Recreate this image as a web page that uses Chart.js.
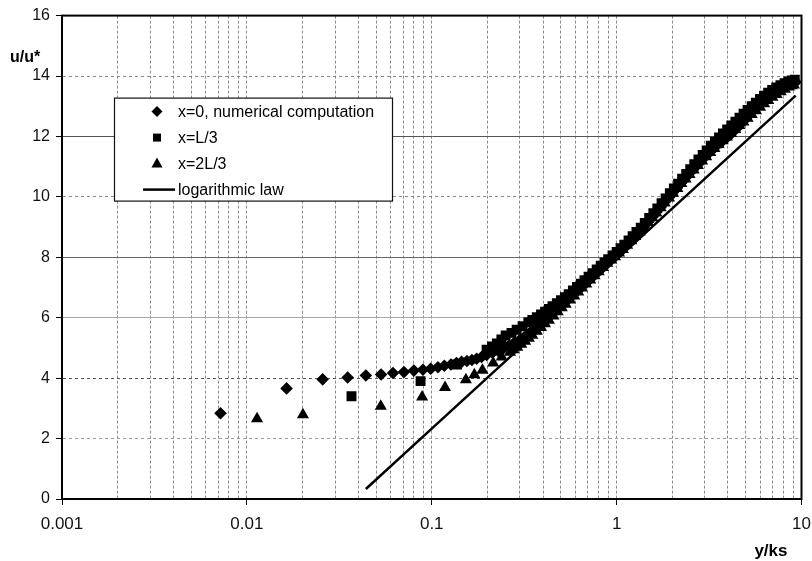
<!DOCTYPE html>
<html>
<head>
<meta charset="utf-8">
<title>u/u* vs y/ks</title>
<script src="https://cdn.jsdelivr.net/npm/chart.js@4.4.0/dist/chart.umd.min.js"></script>
<style>
  html, body { margin: 0; padding: 0; background: #fff; }
  #wrap { position: relative; width: 812px; height: 561px; }
</style>
</head>
<body>
<div id="wrap"><canvas id="chart" width="812" height="561"></canvas></div>
<script>
// --- data ---
const xTitle = 'y/ks';
const yTitle = 'u/u*';

const xMajorTicks = [0.001, 0.01, 0.1, 1, 10];
const xMinorSteps = [2, 3, 4, 5, 6, 7, 8, 9];
const yTicks = [0, 2, 4, 6, 8, 10, 12, 14, 16];

const seriesLabels = ['x=0, numerical computation', 'x=L/3', 'x=2L/3', 'logarithmic law'];

// x=0, numerical computation (diamonds)
const x0X = [0.0072, 0.0164, 0.0257, 0.0351, 0.044, 0.0532, 0.0617, 0.0707, 0.080, 0.0896, 0.0987, 0.108, 0.117, 0.127, 0.136, 0.145,
  0.155, 0.165, 0.175, 0.186, 0.198, 0.213, 0.228, 0.244, 0.262, 0.281, 0.301, 0.323, 0.346, 0.371, 0.398,
  0.426, 0.457, 0.490, 0.525, 0.563, 0.603, 0.647, 0.693, 0.743, 0.797, 0.854, 0.916, 0.982, 1.05, 1.13,
  1.21, 1.29, 1.39, 1.49, 1.59, 1.71, 1.83, 1.96, 2.10, 2.26, 2.42, 2.59, 2.78, 2.98, 3.19,
  3.42, 3.67, 3.93, 4.22, 4.52, 4.85, 5.19, 5.57, 5.97, 6.40, 6.86, 7.35, 7.88, 8.45, 9.05, 9.3];
const x0U = [2.84, 3.66, 3.96, 4.02, 4.09, 4.12, 4.17, 4.20, 4.25, 4.28, 4.31, 4.36, 4.41, 4.45, 4.50, 4.54,
  4.57, 4.60, 4.64, 4.70, 4.77, 4.84, 4.91, 4.98, 5.08, 5.19, 5.28, 5.41, 5.55, 5.70, 5.87,
  6.03, 6.18, 6.35, 6.52, 6.70, 6.87, 7.04, 7.21, 7.40, 7.57, 7.73, 7.89, 8.04, 8.20, 8.40,
  8.58, 8.76, 8.98, 9.20, 9.40, 9.63, 9.86, 10.05, 10.27, 10.50, 10.70, 10.90, 11.10, 11.30, 11.48,
  11.65, 11.80, 11.95, 12.12, 12.30, 12.50, 12.70, 12.90, 13.08, 13.25, 13.40, 13.52, 13.63, 13.72, 13.78, 13.80];

// x=L/3 (squares)
const xL3X = [0.0368, 0.087, 0.137, 0.198, 0.212, 0.225, 0.238, 0.251, 0.27, 0.288, 0.31, 0.333, 0.35, 0.37, 0.39,
  0.41, 0.43, 0.45, 0.475, 0.50, 0.525, 0.55, 0.58, 0.61, 0.64, 0.67, 0.705, 0.74, 0.78, 0.82,
  0.86, 0.90, 0.95, 1.0, 1.05, 1.1, 1.16, 1.22, 1.28, 1.35, 1.42, 1.5, 1.58, 1.66, 1.75,
  1.84, 1.94, 2.04, 2.15, 2.26, 2.38, 2.5, 2.63, 2.77, 2.92, 3.07, 3.23, 3.4, 3.58, 3.76,
  3.96, 4.17, 4.39, 4.62, 4.86, 5.11, 5.38, 5.66, 5.96, 6.27, 6.6, 6.94, 7.3, 7.69, 8.1,
  8.5, 8.85, 9.2];
const xL3U = [3.40, 3.90, 4.45, 4.94, 5.05, 5.15, 5.28, 5.41, 5.50, 5.60, 5.72, 5.85, 5.93, 6.02, 6.11,
  6.20, 6.29, 6.38, 6.48, 6.58, 6.68, 6.78, 6.90, 7.02, 7.13, 7.24, 7.36, 7.47, 7.60, 7.72,
  7.83, 7.94, 8.06, 8.18, 8.30, 8.42, 8.56, 8.70, 8.84, 8.98, 9.14, 9.30, 9.46, 9.62, 9.79,
  9.95, 10.12, 10.28, 10.44, 10.60, 10.76, 10.92, 11.08, 11.24, 11.39, 11.54, 11.69, 11.83, 11.97, 12.10,
  12.23, 12.36, 12.49, 12.62, 12.75, 12.88, 13.00, 13.12, 13.24, 13.35, 13.45, 13.54, 13.62, 13.70, 13.76,
  13.82, 13.85, 13.88];

// x=2L/3 (triangles)
const x2L3X = [0.01135, 0.0201, 0.053, 0.0887, 0.118, 0.153, 0.170, 0.188, 0.215, 0.239, 0.265, 0.277, 0.29, 0.305, 0.32,
  0.335, 0.35, 0.37, 0.39, 0.41, 0.43, 0.455, 0.48, 0.505, 0.53, 0.56, 0.59, 0.62, 0.65, 0.685,
  0.72, 0.76, 0.80, 0.845, 0.89, 0.935, 0.98, 1.03, 1.08, 1.14, 1.2, 1.26, 1.33, 1.4, 1.48,
  1.56, 1.64, 1.73, 1.82, 1.92, 2.02, 2.13, 2.24, 2.36, 2.48, 2.61, 2.75, 2.9, 3.05, 3.21,
  3.38, 3.56, 3.75, 3.95, 4.16, 4.38, 4.61, 4.85, 5.11, 5.38, 5.67, 5.97, 6.28, 6.61, 6.96,
  7.33, 7.72, 8.13, 8.55, 8.85, 9.1];
const x2L3U = [2.66, 2.79, 3.07, 3.38, 3.69, 3.95, 4.11, 4.26, 4.50, 4.70, 4.86, 4.94, 5.02, 5.12, 5.22,
  5.32, 5.42, 5.55, 5.68, 5.80, 5.92, 6.06, 6.20, 6.33, 6.45, 6.59, 6.72, 6.85, 6.98, 7.12,
  7.25, 7.39, 7.52, 7.66, 7.80, 7.91, 8.02, 8.14, 8.26, 8.40, 8.55, 8.69, 8.84, 8.99, 9.15,
  9.31, 9.47, 9.64, 9.80, 9.96, 10.12, 10.28, 10.44, 10.59, 10.74, 10.89, 11.04, 11.19, 11.33, 11.47,
  11.60, 11.73, 11.86, 11.98, 12.10, 12.23, 12.36, 12.48, 12.60, 12.73, 12.85, 12.97, 13.08, 13.19, 13.30,
  13.39, 13.48, 13.56, 13.64, 13.68, 13.70];

// logarithmic law (straight line on log x)
const logLawX = [0.044, 0.1, 1, 9.3];
const logLawU = [0.33, 2.33, 7.93, 13.35];

// --- helpers ---
const FONT = '"Liberation Sans", Arial, Helvetica, sans-serif';
Chart.defaults.font.family = FONT;
Chart.defaults.color = '#111';

const pts = (xs, ys) => xs.map((x, i) => ({ x: x, y: ys[i] }));
const isDecade = v => Math.abs(Math.log10(v) - Math.round(Math.log10(v))) < 1e-6;

const xTickValues = [];
xMajorTicks.forEach((d, i) => {
  xTickValues.push(d);
  if (i < xMajorTicks.length - 1) xMinorSteps.forEach(s => xTickValues.push(Number((d * s).toPrecision(3))));
});

// horizontal gridline look in the scan: some solid, some dotted
const yGridColor = { 2: '#9a9a9a', 4: '#555', 6: '#a8a8a8', 8: '#666', 10: '#8a8a8a', 12: '#555', 14: '#8a8a8a' };
const yGridSolid = [6, 8, 12];

// markers for the in-plot legend
function drawMarker(ctx, style, x, y) {
  ctx.beginPath();
  if (style === 'rectRot') {
    ctx.moveTo(x, y - 5.5); ctx.lineTo(x + 5.5, y); ctx.lineTo(x, y + 5.5); ctx.lineTo(x - 5.5, y);
  } else if (style === 'rect') {
    ctx.rect(x - 4, y - 4, 8, 8);
  } else if (style === 'triangle') {
    ctx.moveTo(x, y - 6); ctx.lineTo(x + 5.5, y + 4); ctx.lineTo(x - 5.5, y + 4);
  }
  ctx.closePath();
  ctx.fill();
}

const frameLegendTitles = {
  id: 'frameLegendTitles',
  afterDraw(chart) {
    const { ctx, chartArea: a } = chart;
    ctx.save();
    // plot frame
    ctx.strokeStyle = '#000';
    ctx.lineWidth = 2;
    ctx.strokeRect(a.left, a.top, a.right - a.left, a.bottom - a.top);

    // axis titles
    ctx.fillStyle = '#000';
    ctx.textBaseline = 'middle';
    ctx.font = 'bold 16px ' + FONT;
    ctx.textAlign = 'left';
    ctx.fillText(yTitle, 10, a.top + 42);
    ctx.font = 'bold 17px ' + FONT;
    ctx.textAlign = 'right';
    ctx.fillText(xTitle, a.right - 14, a.bottom + 52);

    // legend box
    const lx = a.left + 52, ly = a.top + 82, lw = 278, lh = 103;
    ctx.fillStyle = '#fff';
    ctx.fillRect(lx, ly, lw, lh);
    ctx.lineWidth = 1.2;
    ctx.strokeStyle = '#111';
    ctx.strokeRect(lx + 0.5, ly + 0.5, lw, lh);

    ctx.font = '16px ' + FONT;
    ctx.textAlign = 'left';
    chart.data.datasets.forEach((ds, i) => {
      const cy = ly + 14 + i * 26;
      ctx.fillStyle = '#000';
      if (ds.showLine) {
        ctx.strokeStyle = '#000';
        ctx.lineWidth = 2.5;
        ctx.beginPath();
        ctx.moveTo(lx + 29, cy);
        ctx.lineTo(lx + 61, cy);
        ctx.stroke();
      } else {
        drawMarker(ctx, ds.pointStyle, lx + 43, cy);
      }
      ctx.fillText(ds.label, lx + 64, cy + 1);
    });
    ctx.restore();
  }
};

const ctx = document.getElementById('chart').getContext('2d');
new Chart(ctx, {
  type: 'scatter',
  data: {
    datasets: [
      { label: seriesLabels[0], data: pts(x0X, x0U), pointStyle: 'rectRot', pointRadius: 6.3,
        backgroundColor: '#000', borderWidth: 0, showLine: false },
      { label: seriesLabels[1], data: pts(xL3X, xL3U), pointStyle: 'rect', pointRadius: 7,
        backgroundColor: '#000', borderWidth: 0, showLine: false },
      { label: seriesLabels[2], data: pts(x2L3X, x2L3U), pointStyle: 'triangle', pointRadius: 7,
        backgroundColor: '#000', borderWidth: 0, showLine: false },
      { label: seriesLabels[3], data: pts(logLawX, logLawU), showLine: true, borderColor: '#000',
        borderWidth: 2.5, pointRadius: 0, fill: false, tension: 0 }
    ]
  },
  options: {
    responsive: false,
    animation: false,
    devicePixelRatio: 1,
    layout: { padding: { top: 14, right: 0, left: 0, bottom: 0 } },
    plugins: { legend: { display: false }, tooltip: { enabled: false } },
    scales: {
      x: {
        type: 'logarithmic',
        position: 'bottom',
        min: 0.001, max: 10,
        afterBuildTicks: s => { s.ticks = xTickValues.map(v => ({ value: v })); },
        afterFit: s => { s.height = 62; s.paddingRight = 10.5; },
        ticks: {
          autoSkip: false, maxRotation: 0, padding: 9,
          font: { size: 17 }, color: '#111',
          callback: v => isDecade(v) ? String(Number(v.toPrecision(3))) : ''
        },
        grid: {
          color: '#8a8a8a', lineWidth: 1, tickLength: 6,
          tickColor: c => (c.tick && isDecade(c.tick.value)) ? '#000' : 'rgba(0,0,0,0)'
        },
        border: { display: true, color: '#000', width: 2, dash: c => c.tick ? [3, 2] : [] }
      },
      y: {
        min: 0, max: 16,
        afterBuildTicks: s => { s.ticks = yTicks.map(v => ({ value: v })); },
        afterFit: s => { s.width = 62; },
        ticks: { padding: 6, font: { size: 16 }, color: '#111' },
        grid: {
          color: c => (c.tick && yGridColor[c.tick.value]) || '#888',
          lineWidth: 1, tickLength: 6, tickColor: '#000'
        },
        border: {
          display: true, color: '#000', width: 2,
          dash: c => (c.tick && yGridSolid.indexOf(c.tick.value) < 0) ? [3, 3] : []
        }
      }
    }
  },
  plugins: [frameLegendTitles]
});
</script>
</body>
</html>
